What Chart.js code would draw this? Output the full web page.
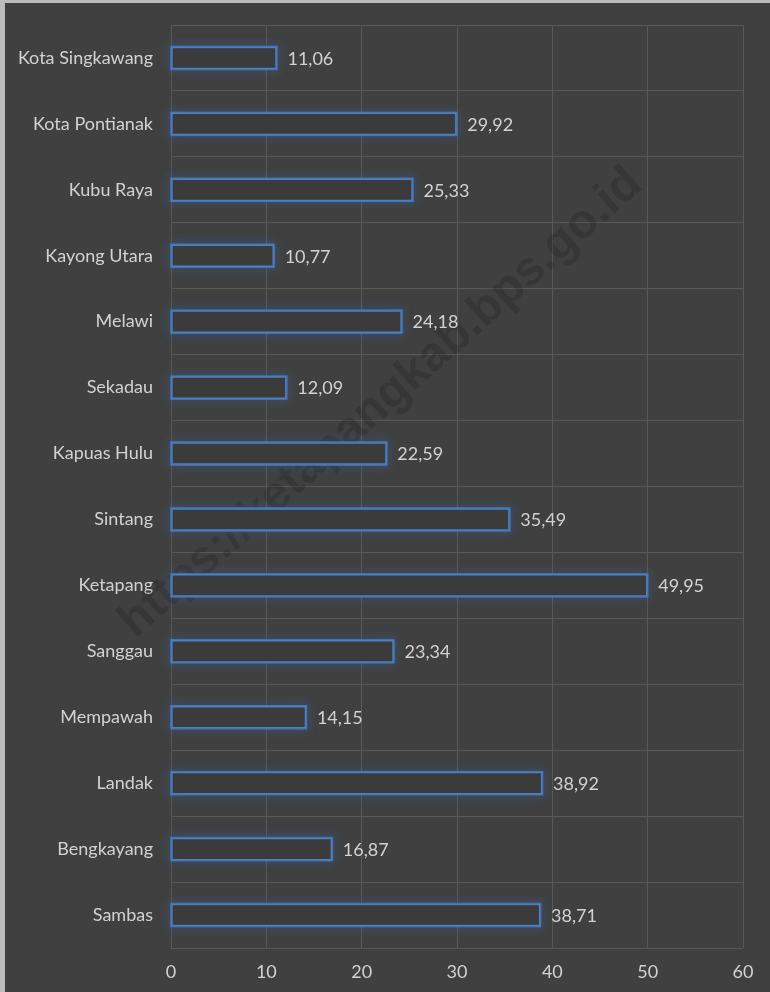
<!DOCTYPE html>
<html>
<head>
<meta charset="utf-8">
<script src="https://cdn.jsdelivr.net/npm/chart.js@4/dist/chart.umd.min.js"></script>
<style>
  html, body { margin: 0; padding: 0; background: #404040; }
  #frame {
    width: 765px; height: 989px;
    border-top: 3px solid #bcbcbc;
    border-left: 5px solid #bcbcbc;
    background: #404040;
  }
  canvas { display: block; }
</style>
</head>
<body>
<div id="frame"><canvas id="chart" width="765" height="989"></canvas></div>
<script>
// Kabupaten / kota, top to bottom
const regions = [
  'Kota Singkawang', 'Kota Pontianak', 'Kubu Raya', 'Kayong Utara', 'Melawi',
  'Sekadau', 'Kapuas Hulu', 'Sintang', 'Ketapang', 'Sanggau',
  'Mempawah', 'Landak', 'Bengkayang', 'Sambas'
];
const values = [
  11.06, 29.92, 25.33, 10.77, 24.18,
  12.09, 22.59, 35.49, 49.95, 23.34,
  14.15, 38.92, 16.87, 38.71
];
const xTicks = [0, 10, 20, 30, 40, 50, 60];
const watermarkText = 'https://ketapangkab.bps.go.id';

const textColor = '#d2d2d2';
const fontFamily = 'Lato, "Open Sans", sans-serif';
const barBlue = '#4a80c6';

const fmt = v => v.toFixed(2).replace('.', ',');

// watermark plus a soft blue glow drawn under each bar
const glowPlugin = {
  id: 'glow',
  beforeDatasetsDraw(chart) {
    const ctx = chart.ctx;
    ctx.save();
    ctx.translate(376, 400);
    ctx.rotate(-41.6 * Math.PI / 180);
    ctx.font = 'bold 48px "Liberation Sans", Arial, sans-serif';
    ctx.fillStyle = 'rgba(0,0,0,0.15)';
    ctx.textAlign = 'center';
    ctx.textBaseline = 'middle';
    ctx.fillText(watermarkText, 0, 0);
    ctx.restore();

    const meta = chart.getDatasetMeta(0);
    ctx.save();
    meta.data.forEach(bar => {
      const { x, y, base, height } = bar.getProps(['x', 'y', 'base', 'height'], true);
      const left = Math.min(base, x), w = Math.abs(x - base);
      ctx.shadowColor = 'rgba(60,115,200,0.95)';
      ctx.shadowBlur = 10;
      ctx.strokeStyle = 'rgba(74,128,198,0.8)';
      ctx.lineWidth = 2.5;
      ctx.strokeRect(left, y - height / 2, w, height);
    });
    ctx.restore();
  }
};

// value labels at the end of each bar
const valueLabels = {
  id: 'valueLabels',
  afterDatasetsDraw(chart) {
    const ctx = chart.ctx;
    const meta = chart.getDatasetMeta(0);
    ctx.save();
    ctx.font = '18px ' + fontFamily;
    ctx.fillStyle = textColor;
    ctx.textAlign = 'left';
    ctx.textBaseline = 'middle';
    meta.data.forEach((bar, i) => {
      ctx.fillText(fmt(values[i]), bar.x + 11, bar.y + 1);
    });
    ctx.restore();
  }
};

new Chart(document.getElementById('chart'), {
  type: 'bar',
  data: {
    labels: regions,
    datasets: [{
      data: values,
      backgroundColor: '#3b3b3b',
      borderColor: barBlue,
      borderWidth: 1.5,
      borderSkipped: false,
      barThickness: 22
    }]
  },
  options: {
    indexAxis: 'y',
    responsive: false,
    animation: false,
    devicePixelRatio: 1,
    layout: { padding: { top: 22, right: 27, left: 0, bottom: 0 } },
    plugins: {
      legend: { display: false },
      tooltip: { enabled: false }
    },
    scales: {
      x: {
        min: 0, max: 60,
        afterBuildTicks: s => { s.ticks = xTicks.map(v => ({ value: v })); },
        afterFit: s => { s.height = 44; },
        grid: { color: '#585858', lineWidth: 1, drawTicks: false },
        border: { display: false },
        ticks: {
          color: textColor,
          font: { family: fontFamily, size: 18 },
          padding: 13
        }
      },
      y: {
        afterFit: s => { s.width = 166; s.paddingTop = 0; s.paddingBottom = 0; },
        grid: { color: '#585858', lineWidth: 1, offset: true, drawTicks: false },
        border: { display: false },
        ticks: {
          color: textColor,
          font: { family: fontFamily, size: 18 },
          padding: 18
        }
      }
    }
  },
  plugins: [glowPlugin, valueLabels]
});
</script>
</body>
</html>
